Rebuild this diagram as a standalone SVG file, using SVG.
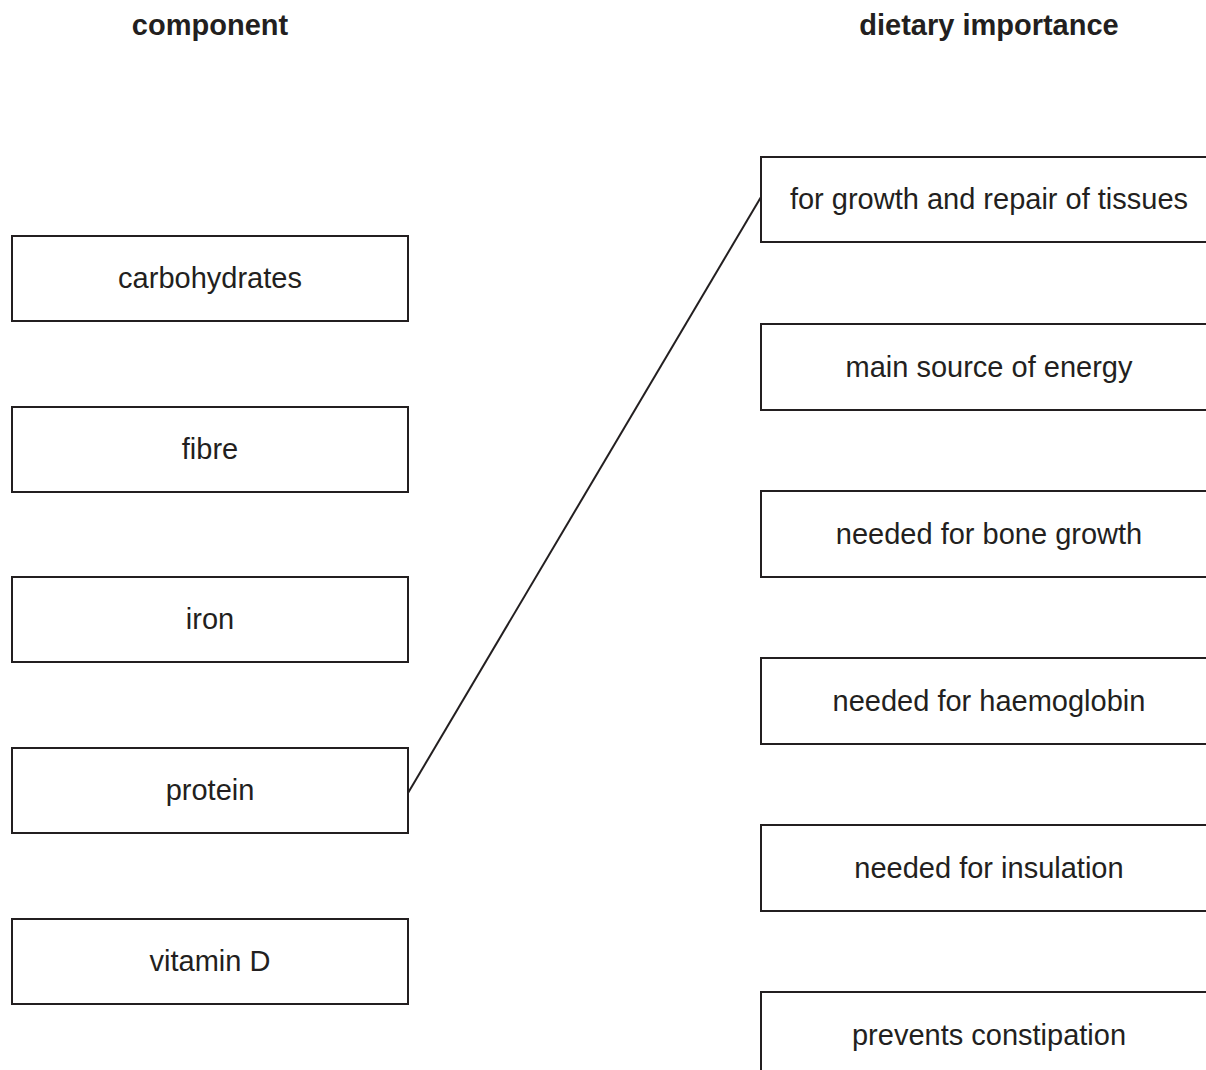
<svg xmlns="http://www.w3.org/2000/svg" width="1206" height="1070" viewBox="0 0 1206 1070">
<style>
.box{fill:#fff;stroke:#231f20;stroke-width:2}
.t{font-family:"Liberation Sans",Arial,sans-serif;font-size:29px;fill:#231f20;text-anchor:middle}
.h{font-family:"Liberation Sans",Arial,sans-serif;font-size:29px;font-weight:bold;fill:#231f20;text-anchor:middle}
.c{fill:none;stroke:#231f20;stroke-width:2}
</style>
<rect width="1206" height="1070" fill="#fff"/>
<text class="h" x="210" y="35">component</text>
<text class="h" x="989" y="35">dietary importance</text>
<g id="connectors">
<line class="c" x1="408" y1="793" x2="761" y2="197"/>
</g>
<g id="carbohydrates"><rect class="box" x="12" y="236" width="396" height="85"/><text class="t" x="210" y="288">carbohydrates</text></g>
<g id="fibre"><rect class="box" x="12" y="407" width="396" height="85"/><text class="t" x="210" y="459">fibre</text></g>
<g id="iron"><rect class="box" x="12" y="577" width="396" height="85"/><text class="t" x="210" y="629">iron</text></g>
<g id="protein"><rect class="box" x="12" y="748" width="396" height="85"/><text class="t" x="210" y="800">protein</text></g>
<g id="vitaminD"><rect class="box" x="12" y="919" width="396" height="85"/><text class="t" x="210" y="971">vitamin D</text></g>
<g id="growth"><rect class="box" x="761" y="157" width="470" height="85"/><text class="t" x="989" y="209">for growth and repair of tissues</text></g>
<g id="energy"><rect class="box" x="761" y="324" width="470" height="86"/><text class="t" x="989" y="377">main source of energy</text></g>
<g id="bone"><rect class="box" x="761" y="491" width="470" height="86"/><text class="t" x="989" y="544">needed for bone growth</text></g>
<g id="haemoglobin"><rect class="box" x="761" y="658" width="470" height="86"/><text class="t" x="989" y="711">needed for haemoglobin</text></g>
<g id="insulation"><rect class="box" x="761" y="825" width="470" height="86"/><text class="t" x="989" y="878">needed for insulation</text></g>
<g id="constipation"><rect class="box" x="761" y="992" width="470" height="120"/><text class="t" x="989" y="1045">prevents constipation</text></g>
</svg>
